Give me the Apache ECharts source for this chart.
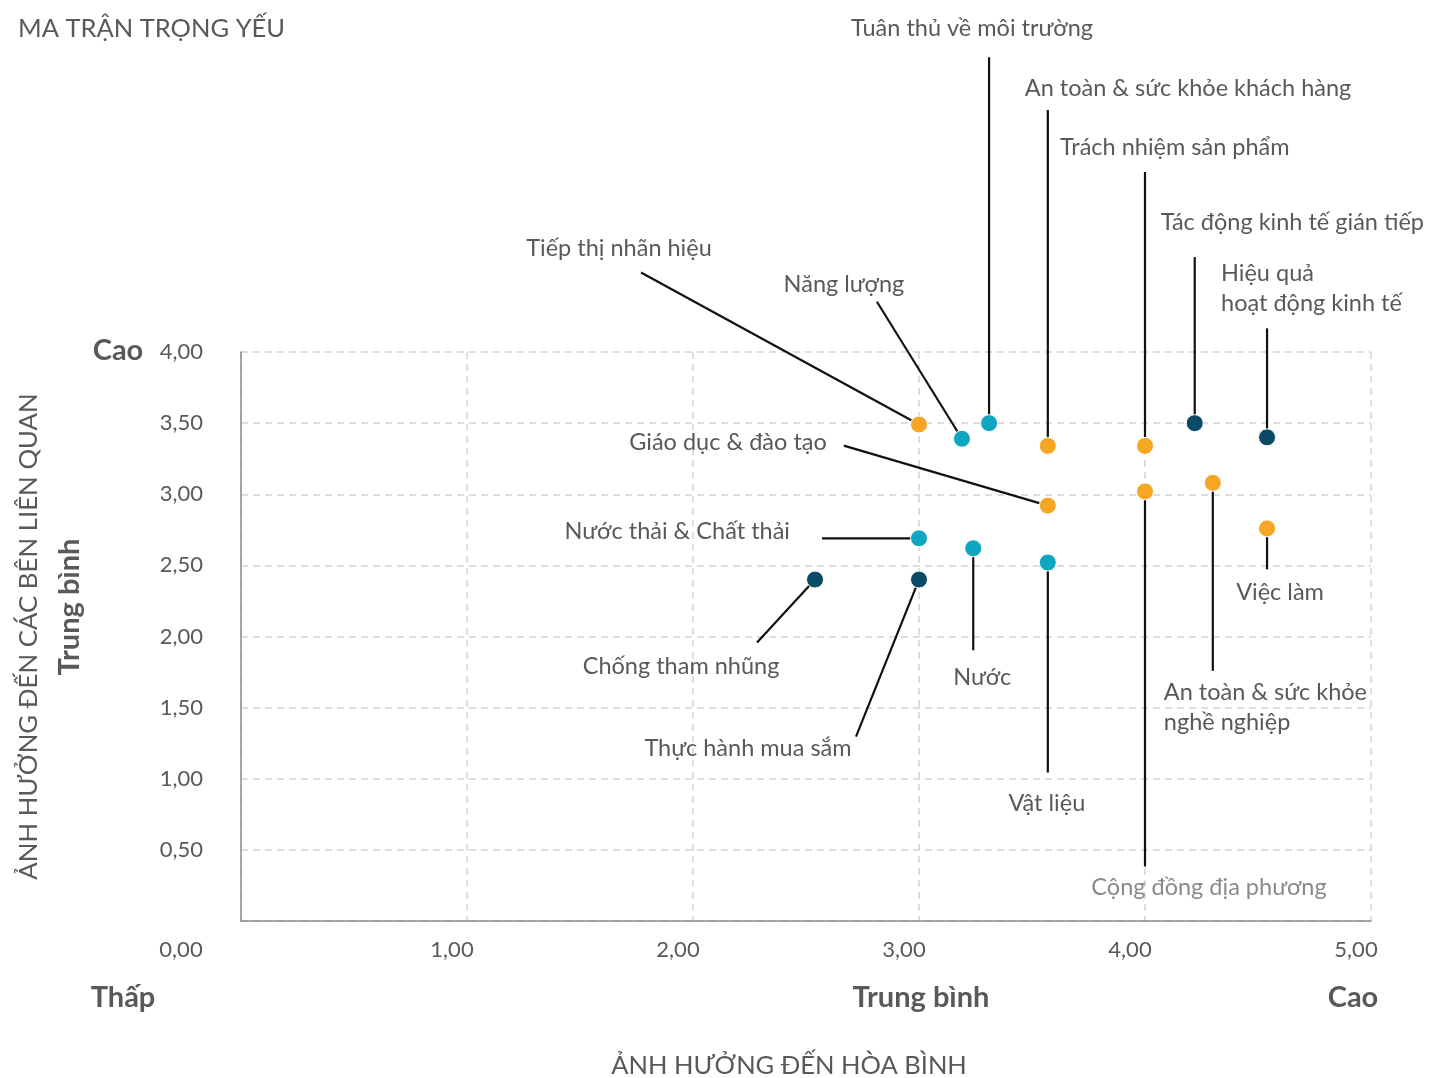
<!DOCTYPE html>
<html>
<head>
<meta charset="utf-8">
<script src="https://cdn.jsdelivr.net/npm/echarts@6/dist/echarts.min.js"></script>
<style>
  html, body { margin: 0; padding: 0; background: #fff; }
  #chart { width: 1437px; height: 1078px; }
</style>
</head>
<body>
<div id="chart"></div>
<script>
// Materiality topics: impact on peace (x) vs. impact on stakeholders (y)
const topics = [
  'Tiếp thị nhãn hiệu', 'Năng lượng', 'Tuân thủ về môi trường',
  'An toàn & sức khỏe khách hàng', 'Trách nhiệm sản phẩm',
  'Tác động kinh tế gián tiếp', 'Hiệu quả\nhoạt động kinh tế',
  'Giáo dục & đào tạo', 'Nước thải & Chất thải', 'Chống tham nhũng',
  'Thực hành mua sắm', 'Nước', 'Vật liệu', 'Cộng đồng địa phương',
  'An toàn & sức khỏe\nnghề nghiệp', 'Việc làm'
];
const peaceImpact = [3.00, 3.19, 3.31, 3.57, 4.00, 4.22, 4.54, 3.57, 3.00, 2.54, 3.00, 3.24, 3.57, 4.00, 4.30, 4.54];
const stakeholderImpact = [3.49, 3.39, 3.50, 3.34, 3.34, 3.50, 3.40, 2.92, 2.69, 2.40, 2.40, 2.62, 2.52, 3.02, 3.08, 2.76];
// topic group: social / environment / economic
const groups = ['social', 'env', 'env', 'social', 'social', 'econ', 'econ', 'social', 'env', 'econ', 'econ', 'env', 'env', 'social', 'social', 'social'];

const xTicks = ['0,00', '1,00', '2,00', '3,00', '4,00', '5,00'];
const yTicks = ['0,00', '0,50', '1,00', '1,50', '2,00', '2,50', '3,00', '3,50', '4,00'];

const groupColors = { social: '#F5A623', env: '#0FA6C2', econ: '#0B4A66' };
const TEXT = '#595959';
const FONT = 'Lato, "Noto Sans", sans-serif';

// Leader line end and label anchor, as pixel offsets from each point
const callouts = [
  { line: [-278, -152], label: [-300, -176], align: 'center' },
  { line: [-85, -137],  label: [-118, -154], align: 'center' },
  { line: [0, -366],    label: [-17, -395],  align: 'center' },
  { line: [0, -336],    label: [-23, -357],  align: 'left' },
  { line: [0, -274],    label: [-85, -298],  align: 'left' },
  { line: [0, -166],    label: [-34, -201],  align: 'left' },
  { line: [0, -109],    label: [-46, -149],  align: 'left' },
  { line: [-204, -60],  label: [-221, -63],  align: 'right' },
  { line: [-97, 0],     label: [-129, -7],   align: 'right' },
  { line: [-58, 63],    label: [-134, 87],   align: 'center' },
  { line: [-63, 157],   label: [-171, 169],  align: 'center' },
  { line: [0, 102],     label: [9, 129],     align: 'center' },
  { line: [0, 210],     label: [-1, 241],    align: 'center' },
  { line: [0, 375],     label: [64, 396],    align: 'center', faded: true },
  { line: [0, 188],     label: [-49, 225],   align: 'left' },
  { line: [0, 41],      label: [13, 64],     align: 'center' }
];

const points = topics.map((name, i) => ({
  name: name,
  value: [peaceImpact[i], stakeholderImpact[i], i],
  itemStyle: { color: groupColors[groups[i]] }
}));

const chart = echarts.init(document.getElementById('chart'));

const bold = 'bold 29px ' + FONT;

chart.setOption({
  backgroundColor: '#fff',
  animation: false,
  textStyle: { fontFamily: FONT },
  grid: { left: 241, right: 66, top: 352, bottom: 157, containLabel: false, outerBoundsMode: 'none' },
  xAxis: {
    type: 'value', min: 0, max: 5, interval: 1,
    name: 'ẢNH HƯỞNG ĐẾN HÒA BÌNH',
    nameLocation: 'middle', nameGap: 132,
    nameTextStyle: { color: TEXT, fontSize: 25.5, fontFamily: FONT, padding: [0, 34, 0, 0] },
    axisLine: { show: true, lineStyle: { color: '#8c8c8c', width: 1.5 } },
    axisTick: { show: false },
    splitLine: { show: true, lineStyle: { color: '#d4d4d4', type: [7, 5], width: 1.5 } },
    axisLabel: {
      margin: 18,
      formatter: v => (v === 0 ? '{z|' : '{n|') + xTicks[Math.round(v)] + '}',
      rich: {
        z: { color: TEXT, fontSize: 22, fontFamily: FONT, padding: [0, 120, 0, 0] },
        n: { color: TEXT, fontSize: 22, fontFamily: FONT, padding: [0, 30, 0, 0] }
      }
    }
  },
  yAxis: {
    type: 'value', min: 0, max: 4, interval: 0.5,
    name: 'ẢNH HƯỞNG ĐẾN CÁC BÊN LIÊN QUAN',
    nameLocation: 'middle', nameGap: 199, nameRotate: 90,
    nameTextStyle: { color: TEXT, fontSize: 25.8, fontFamily: FONT },
    axisLine: { show: true, lineStyle: { color: '#8c8c8c', width: 1.5 } },
    axisTick: { show: false },
    splitLine: { show: true, lineStyle: { color: '#d4d4d4', type: [7, 5], width: 1.5 } },
    axisLabel: {
      margin: 38, color: TEXT, fontSize: 22, fontFamily: FONT,
      showMinLabel: false,
      formatter: v => yTicks[Math.round(v * 2)]
    }
  },
  graphic: [
    { type: 'text', left: 18, top: 16, style: { text: 'MA TRẬN TRỌNG YẾU', fill: TEXT, font: '25.5px ' + FONT } },
    { type: 'text', x: 118, y: 351, style: { text: 'Cao', fill: TEXT, font: bold, align: 'center', verticalAlign: 'middle' } },
    { type: 'text', x: 70, y: 607, rotation: Math.PI / 2, style: { text: 'Trung bình', fill: TEXT, font: bold, align: 'center', verticalAlign: 'middle' } },
    { type: 'text', x: 123, y: 998, style: { text: 'Thấp', fill: TEXT, font: bold, align: 'center', verticalAlign: 'middle' } },
    { type: 'text', x: 921, y: 998, style: { text: 'Trung bình', fill: TEXT, font: bold, align: 'center', verticalAlign: 'middle' } },
    { type: 'text', x: 1353, y: 998, style: { text: 'Cao', fill: TEXT, font: bold, align: 'center', verticalAlign: 'middle' } }
  ],
  series: [
    {
      // leader lines and topic labels
      type: 'custom',
      z: 1,
      clip: false,
      data: points.map(p => p.value),
      renderItem: (params, api) => {
        const i = api.value(2);
        const c = callouts[i];
        const pt = api.coord([api.value(0), api.value(1)]);
        return {
          type: 'group',
          children: [
            {
              type: 'line',
              shape: { x1: pt[0], y1: pt[1], x2: pt[0] + c.line[0], y2: pt[1] + c.line[1] },
              style: { stroke: '#111', lineWidth: 2.2 }
            },
            {
              type: 'text',
              x: pt[0] + c.label[0], y: pt[1] + c.label[1],
              style: {
                text: topics[i],
                fill: c.faded ? '#8a8a8a' : TEXT,
                font: '23.5px ' + FONT,
                lineHeight: 30,
                align: c.align,
                verticalAlign: 'middle'
              }
            }
          ]
        };
      }
    },
    {
      type: 'scatter',
      z: 3,
      symbolSize: 17,
      itemStyle: { borderColor: '#fff', borderWidth: 1, opacity: 1 },
      data: points
    }
  ]
});
</script>
</body>
</html>
